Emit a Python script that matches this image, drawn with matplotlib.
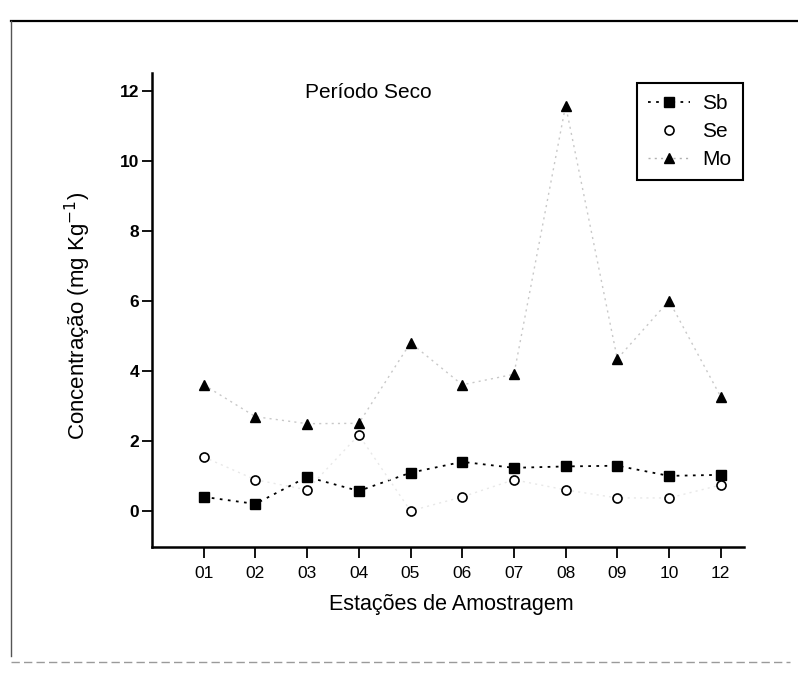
import numpy as np
import matplotlib
matplotlib.use("Agg")
from matplotlib import pyplot as plt
from matplotlib.lines import Line2D

plt.rcParams['font.family'] = ['Liberation Sans', 'DejaVu Sans']

# sampling stations and metal concentrations (mg/kg), dry season
stations = ['01', '02', '03', '04', '05', '06', '07', '08', '09', '10', '12']
sb = [0.40, 0.20, 0.97, 0.57, 1.09, 1.40, 1.23, 1.27, 1.29, 1.00, 1.03]
se = [1.54, 0.89, 0.60, 2.17, 0.00, 0.40, 0.89, 0.60, 0.37, 0.37, 0.74]
mo = [3.60, 2.69, 2.49, 2.50, 4.80, 3.60, 3.90, 11.57, 4.34, 6.00, 3.26]

x = np.arange(1, len(stations) + 1)

fig = plt.figure(figsize=(7.98, 6.73), dpi=100)
ax = fig.add_axes([152 / 798, 126 / 673, 592 / 798, 474 / 673])

dots = (0, (1.5, 3))
ax.plot(x, sb, color='k', ls=dots, lw=1.3, marker='s', ms=7,
        mfc='k', mec='k', label='Sb')
ax.plot(x, se, color='#e8e8e8', ls=dots, lw=1.0, marker='o', ms=6.5,
        mfc='white', mec='k', mew=1.2, label='Se')
ax.plot(x, mo, color='#c8c8c8', ls=dots, lw=1.0, marker='^', ms=7,
        mfc='k', mec='k', label='Mo')

ax.set_xlim(0, 11.45)
ax.set_ylim(-1.03, 12.5)
ax.set_xticks(x)
ax.set_xticklabels(stations)
ax.set_yticks(np.arange(0, 13, 2))

for side in ['top', 'right']:
    ax.spines[side].set_visible(False)
for side in ['left', 'bottom']:
    ax.spines[side].set_linewidth(1.8)

ax.tick_params(axis='both', direction='out', width=1.3, labelsize=12.5)
ax.tick_params(axis='x', length=8, pad=6)
ax.tick_params(axis='y', length=7, pad=2)
for lbl in ax.get_yticklabels():
    lbl.set_fontweight('bold')

ax.set_xlabel('Estações de Amostragem', fontsize=15.5)
ax.xaxis.set_label_coords(0.505, -0.100)
ax.set_ylabel('Concentração (mg Kg$^{-1}$)', fontsize=16)
ax.yaxis.set_label_coords(-0.1, 0.487)

ax.text(0.258, 0.958, 'Período Seco', transform=ax.transAxes, fontsize=15,
        ha='left', va='center')

handles = [
    Line2D([], [], color='k', ls=dots, lw=1.3, marker='s', ms=7, mfc='k', mec='k'),
    Line2D([], [], color='none', marker='o', ms=6.5, mfc='white', mec='k', mew=1.2),
    Line2D([], [], color='#b0b0b0', ls=dots, lw=1.0, marker='^', ms=7, mfc='k', mec='k'),
]
leg = ax.legend(handles, ['Sb', 'Se', 'Mo'], loc='upper right',
                bbox_to_anchor=(0.998, 0.979), borderaxespad=0, fontsize=15,
                fancybox=False, framealpha=1, edgecolor='k',
                handlelength=2.0, handletextpad=0.6, labelspacing=0.42, borderpad=0.55)
leg.get_frame().set_linewidth(1.5)

# page frame around the plot
fig.add_artist(Line2D([11 / 798, 1.0], [1 - 21 / 673, 1 - 21 / 673],
                      color='k', lw=1.6, transform=fig.transFigure))
fig.add_artist(Line2D([11 / 798, 11 / 798], [1 - 21 / 673, 1 - 656 / 673],
                      color='#555555', lw=1.0, transform=fig.transFigure))
fig.add_artist(Line2D([11 / 798, 790 / 798], [1 - 662 / 673, 1 - 662 / 673],
                      color='#9a9a9a', lw=1.0, ls=(0, (6, 3)), transform=fig.transFigure))

fig.savefig('out.png', dpi=100)
